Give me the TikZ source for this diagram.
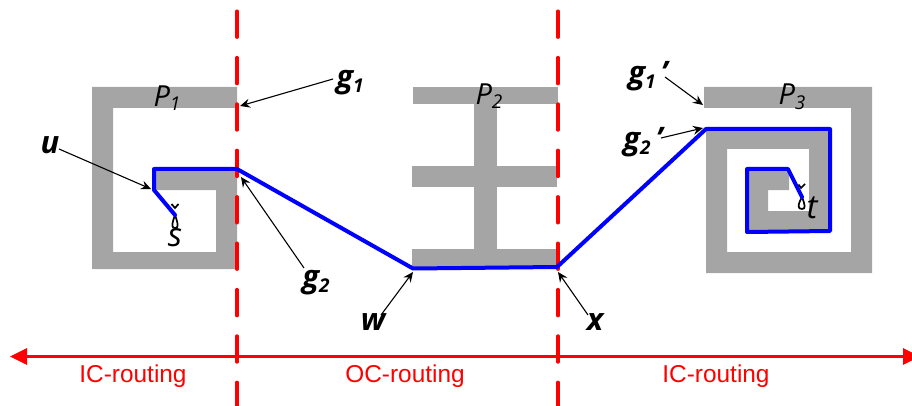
\documentclass[tikz,border=0pt]{standalone}
\usepackage{fontspec}
\setmainfont{Open Sans}
\newfontfamily\arialfont{Liberation Sans}
\usetikzlibrary{arrows.meta}
\definecolor{padgray}{HTML}{A5A5A5}
\tikzset{
  pad/.style={fill=padgray,draw=none},
  boundary/.style={draw=red,line width=3.4pt,line cap=round,dash pattern=on 26pt off 20.4pt},
  route/.style={draw=blue,line width=4pt,line join=round,line cap=round},
  pointer/.style={draw=black,line width=1.1pt,-{Stealth[length=10pt,width=9pt,inset=3.5pt]}},
  span/.style={draw=red,line width=3pt,{Triangle[length=17pt,width=16pt]}-{Triangle[length=17pt,width=16pt]}},
  zone/.style={text=red,font=\arialfont\fontsize{24.4}{26}\selectfont,inner sep=0pt},
  lab/.style={font=\bfseries\itshape\fontsize{31}{33}\selectfont,inner sep=0pt},
  padlab/.style={font=\itshape\fontsize{29}{32}\selectfont,inner sep=0pt},
  endlab/.style={font=\itshape\fontsize{33}{34}\selectfont,inner sep=0pt},
  loopmark/.style={draw=black,line width=1.7pt},
}
\newcommand{\subs}[1]{\raisebox{-0.3ex}{\fontsize{19}{20}\selectfont #1}}
\begin{document}
\begin{tikzpicture}[x=1pt,y=-1pt]
\useasboundingbox (0,0) rectangle (912,406);
\clip (0,0) rectangle (912,406);
% pads
\fill[pad] (92,87)--(237,87)--(237,108)--(113,108)--(113,252)--(216,252)--(216,190)--(154,190)--(154,169)--(237,169)--(237,269)--(92,269)--cycle;
\fill[pad] (413,87) rectangle (558,104);
\fill[pad] (474,104) rectangle (497,249);
\fill[pad] (412,166) rectangle (557,187);
\fill[pad] (412,249) rectangle (557,269);
\fill[pad] (704,87)--(872,87)--(872,273)--(706,273)--(706,129)--(830,129)--(830,231)--(747,231)--(747,169)--(789,169)--(789,190)--(768,190)--(768,211)--(809,211)--(809,149)--(727,149)--(727,252)--(851,252)--(851,108)--(704,108)--cycle;
% coordinates
\coordinate (bt1) at (237,11.2); \coordinate (bb1) at (237,406);
\coordinate (bt2) at (558,11.2); \coordinate (bb2) at (558,406);
\coordinate (spanl) at (10,356.5); \coordinate (spanr) at (920,356.5);
\coordinate (s) at (175,215); \coordinate (ucorner) at (154,190);
\coordinate (ustart) at (154,169); \coordinate (g2pt) at (237,169);
\coordinate (wpt) at (413,268.5); \coordinate (xpt) at (557,267);
\coordinate (g2ppt) at (706,129); \coordinate (r1) at (830,129);
\coordinate (r2) at (830,231); \coordinate (r3) at (747,232);
\coordinate (r4) at (747,169); \coordinate (r5) at (788,169);
\coordinate (t) at (802,197);
\coordinate (g1pt) at (240,106); \coordinate (g2tip) at (241,177);
\coordinate (utip) at (151,189); \coordinate (wtip) at (413,272);
\coordinate (xtip) at (558,272); \coordinate (g1ptip) at (703,105);
\coordinate (g2ptip) at (703,128);
% boundaries
\draw[boundary] (bt1)--(bb1);
\draw[boundary] (bt2)--(bb2);
\draw[span] (spanl)--(spanr);
% labels
\node[padlab] (P1) at (167,98) {P\subs{1}};
\node[padlab] (P2) at (489,96) {P\subs{2}};
\node[padlab] (P3) at (792,97) {P\subs{3}};
\node[endlab] (slab) at (175,238) {s};
\node[endlab] (tlab) at (812,208) {t};
\node[lab] (g1) at (350,83) {g\subs{1}};
\node[lab] (g2) at (316,283) {g\subs{2}};
\node[lab] (g1p) at (648,76) {g\subs{1}\,'};
\node[lab] (g2p) at (643,142) {g\subs{2}\,'};
\node[lab] (u) at (50,145) {u};
\node[lab] (w) at (373,322) {w};
\node[lab] (x) at (595,322) {x};
\node[zone] (z1) at (133,376.5) {IC-routing};
\node[zone] (z2) at (405,376.5) {OC-routing};
\node[zone] (z3) at (716,376.5) {IC-routing};
% pointers
\draw[pointer] (g1.center) ++(-17,-4) -- (g1pt);
\draw[pointer] (g2.center) ++(-12,-15) -- (g2tip);
\draw[pointer] (u.center) ++(9,4) -- (utip);
\draw[pointer] (w.center) ++(8,-7) -- (wtip);
\draw[pointer] (x.center) ++(-7,-7) -- (xtip);
\draw[pointer] (g1p.center) ++(17,1) -- (g1ptip);
\draw[pointer] (g2p.center) ++(18,-4) -- (g2ptip);
% tiny terminal marks
\draw[loopmark] (s) .. controls (171,226) and (172,228) .. (175,228) .. controls (178,228) and (179,226) .. (s);
\draw[loopmark] (171.5,204)--(175,208)--(178.5,204);
\draw[loopmark] (t) .. controls (797,206) and (798,209) .. (802,209) .. controls (806,209) and (805,205) .. (t);
\draw[loopmark] (798.5,184.5)--(801,188)--(805,184);
% route
\draw[route] (s)--(ucorner)--(ustart)--(g2pt)--(wpt)--(xpt)--(g2ppt)--(r1)--(r2)--(r3)--(r4)--(r5)--(t);
\end{tikzpicture}
\end{document}
